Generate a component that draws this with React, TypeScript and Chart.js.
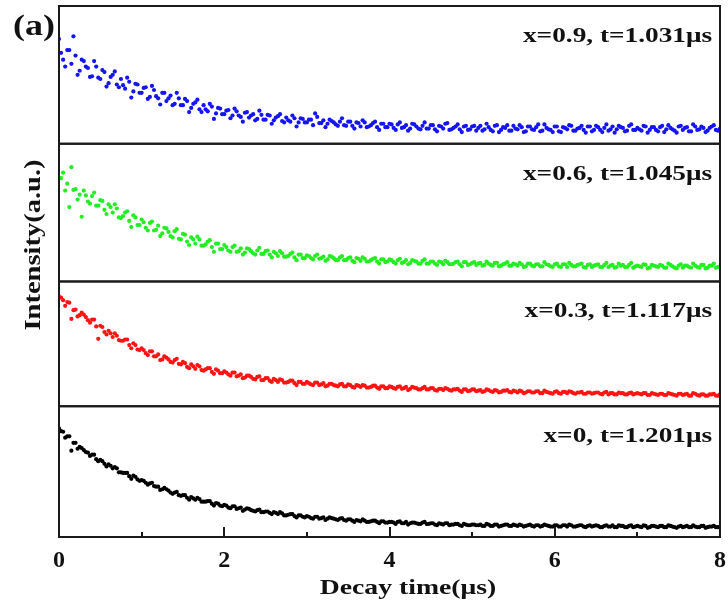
import React, { useEffect, useRef } from 'react';
import { Chart, registerables } from 'chart.js';

Chart.register(...registerables);

// ---- data -------------------------------------------------------------
// Samples are recorded every T_STEP μs; the "_MID" arrays hold the samples
// that fall half a step later (t = 0.025, 0.075, …).
const T_STEP = 0.05;
const X_MIN = 0;
const X_MAX = 8;
const X_TICK_STEP = 2;

const PANEL_LABELS = [
  'x=0.9, t=1.031μs',
  'x=0.6, t=1.045μs',
  'x=0.3, t=1.117μs',
  'x=0, t=1.201μs',
];

// intensity (a.u., each panel normalised 0–100)
const BLUE = [
  76, 61, 68, 58, 64, 53, 60, 55, 49, 56, 47, 52, 44, 50, 43, 47, 40, 45, 38, 43,
  37, 41, 34, 39, 33, 37, 31, 35, 29, 33, 28, 31, 26, 30, 25, 28, 23.5, 27, 22, 25.5,
  21.5, 24.5, 20.5, 23.5, 19.5, 22.5, 19, 21.5, 18, 21, 17.5, 20.5, 17, 20, 16.5, 19, 16, 18.5, 15.5, 18,
  15.5, 17.5, 22, 15, 17, 14.5, 16.5, 14, 16, 13.5, 16, 13, 15.5, 12.5, 15.5, 12.5, 15, 12, 14.5, 12,
  14.5, 11.5, 14, 11.5, 13.5, 11, 14, 11, 13, 11, 13.5, 10.5, 13, 11, 15, 10.5, 12.5, 10.5, 12.5, 10,
  12.5, 9.5, 13, 10.5, 12, 9, 13.5, 10, 11.5, 9.5, 13, 10.5, 12, 9, 12.5, 10, 14, 9.5, 11.5, 10,
  12.5, 9, 12, 10.5, 13, 9.5, 11.5, 10, 12.5, 9, 13, 10, 11.5, 9.5, 12.5, 10.5, 12, 9, 13, 10,
  11.5, 9.5, 12.5, 10, 12, 9, 13, 10.5, 11.5, 9.5, 12.5, 10, 12, 9, 12.5, 10.5, 11.5, 9.5, 12.5, 10,
  11,
];
const BLUE_MID = [
  66, 56, 68, 78, 50, 61, 56, 48.5, 60, 48, 53.5, 41.5, 48.5, 52.5, 41, 42.5, 48, 33.5, 43.5, 37,
  40.5, 32.5, 42, 34.5, 28.5, 37, 33, 28, 37, 28, 32.5, 23, 29, 32, 23, 25, 29, 18, 26, 21.5,
  24, 18.5, 25.5, 20.5, 16, 23, 20.5, 17, 24, 17.5, 21, 14.5, 19, 21.5, 15.5, 17, 20.5, 12.5, 18.5, 15.5,
  17.5, 13.5, 19.5, 15, 12, 17.5, 15.5, 13, 18.5, 13, 16, 11, 15, 17, 12, 13.5, 16, 10, 14.5, 12,
  14, 10, 15.5, 12, 9.5, 14.5, 12.5, 10.5, 15.5, 11, 13.5, 9, 12.5, 14.5, 10, 11.5, 14, 8.5, 13, 10.5,
  13, 11.5, 9.5, 14.5, 10, 13, 8.5, 12, 13.5, 9.5, 11, 13.5, 8.5, 12.5, 10.5, 12, 9, 14, 10.5, 8.5,
  12.5, 8.5, 11.5, 13.5, 9.5, 11, 13, 8, 12.5, 10, 12, 8.5, 14, 10.5, 8, 13, 11.5, 9.5, 14, 10,
  10.5, 13, 8, 12, 10, 12, 8.5, 13.5, 10.5, 8, 13, 11.5, 9, 14, 10, 12.5, 8.5, 11.5, 13.5, 9.5,
];

const GREEN = [
  75, 79, 71, 83, 67, 63, 66, 58, 62, 55, 59, 52, 56, 50, 53, 46, 50, 44, 48, 41,
  45, 39, 42.5, 37, 40.5, 35, 38.5, 33, 36.5, 31, 34.5, 29, 32, 27.5, 30.5, 26, 29, 25, 27.5, 23.5,
  26.5, 22.5, 25, 21.5, 24, 21, 23.5, 20.5, 22.5, 20, 22, 19.5, 21.5, 18.5, 20.5, 18, 20, 17.5, 19.5, 17,
  19, 17, 18.5, 16.5, 18, 16, 18, 15.5, 17.5, 15.5, 17, 15, 17, 15, 16.5, 14.5, 16.5, 14.5, 16, 14,
  16, 14, 15.5, 13.5, 15.5, 13.5, 15, 13, 15, 13, 14.5, 13, 14.5, 12.5, 14, 12.5, 14, 12.5, 14, 12,
  13.5, 12, 13.5, 12, 13, 11.5, 13.5, 11.5, 13, 11.5, 13, 11.5, 12.5, 11, 13, 11, 12.5, 11, 12.5, 11,
  12.5, 11, 12.5, 10.5, 12, 11, 12.5, 10.5, 12, 10.5, 12, 10.5, 12, 10.5, 12, 10.5, 11.5, 10.5, 12, 10,
  11.5, 10.5, 12, 10, 11.5, 10.5, 11.5, 10, 12, 10, 11.5, 10, 11.5, 10, 11.5, 10, 12, 10, 11.5, 10,
  11,
];
const GREEN_MID = [
  75, 66, 54, 66.5, 59.5, 47, 62.5, 56.5, 64.5, 55, 58.5, 49, 54, 56, 46.5, 47.5, 51, 39.5, 46.5, 41,
  43, 37, 43.5, 37.5, 33, 39, 36, 32, 38, 30.5, 34, 26.5, 30.5, 32.5, 26, 27, 30, 21.5, 27.5, 23.5,
  25, 21.5, 26, 22, 19.5, 24, 22, 19.5, 24.5, 20, 22.5, 17.5, 20.5, 22, 18, 18.5, 21, 15.5, 19.5, 17,
  18.5, 16, 19.5, 17, 15, 18.5, 17, 15.5, 18.5, 15.5, 17.5, 14, 16.5, 17.5, 14.5, 15.5, 17, 13, 16, 14.5,
  15.5, 13, 16.5, 14, 12.5, 15.5, 14.5, 13, 16, 13, 14.5, 12, 14, 15, 12.5, 13, 14.5, 11, 14, 12.5,
  14, 13, 11.5, 14.5, 12, 13.5, 11, 12.5, 14, 11.5, 12.5, 13.5, 10.5, 13, 11.5, 12.5, 11, 14, 12, 10.5,
  13, 10.5, 12.5, 13.5, 11, 12, 13, 10, 12.5, 11.5, 12.5, 10.5, 13.5, 11.5, 10, 13, 12, 10.5, 13.5, 11,
  11, 12.5, 9.5, 12, 11, 12, 10, 13, 11, 9.5, 12.5, 11.5, 10.5, 13, 10.5, 12, 9.5, 11.5, 13, 10.5,
];

const RED = [
  88, 85, 83.5, 70, 77.5, 73, 73.5, 69, 69.5, 64, 64.5, 59.5, 60.5, 55.5, 56.5, 52.5, 53.5, 49, 50.5, 45.5,
  46.5, 42.5, 44, 40, 41.5, 37.5, 39, 35.5, 37, 34, 35.5, 31.5, 33.5, 30, 32, 28.5, 30.5, 27.5, 29.5, 26.5,
  28, 25.5, 27, 24, 25.5, 23, 24.5, 22, 23.5, 21, 22.5, 20.5, 22, 19.5, 21, 19, 20.5, 18.5, 19.5, 18,
  19.5, 17.5, 19, 17, 18.5, 16.5, 18, 16.5, 17.5, 16, 17.5, 15.5, 17, 15.5, 16.5, 15, 16.5, 15, 16, 14.5,
  16, 14.5, 15.5, 14, 15.5, 14, 15, 13.5, 14.5, 13.5, 14.5, 13, 14, 13, 14, 12.5, 13.5, 12.5, 13.5, 12,
  13.5, 12, 13, 12, 13, 11.5, 12.5, 11.5, 12.5, 11.5, 12.5, 11, 12, 11, 12, 11, 12, 10.5, 11.5, 10.5,
  11.5, 10.5, 11.5, 10.5, 11.5, 10, 11, 10, 11, 10, 11, 10, 11, 9.5, 10.5, 9.5, 10.5, 9.5, 10.5, 9.5,
  10.5, 9.5, 10.5, 9, 10, 9, 10, 9, 10, 9, 10, 9, 10, 8.5, 10, 8.5, 9.5, 8.5, 9.5, 8.5,
  9.5,
];
const RED_MID = [
  87, 80.5, 83, 77, 72, 75, 71.5, 67, 69.5, 54, 63.5, 57.5, 58.5, 58.5, 53, 52.5, 53.5, 46.5, 49, 45,
  45, 41, 44, 40, 37, 40, 37.5, 35, 38, 33.5, 34.5, 30.5, 32, 33, 29, 29.5, 30.5, 26, 28.5, 26.5,
  27, 24.5, 27, 24.5, 22.5, 24.5, 23.5, 21.5, 24, 21, 22.5, 19.5, 21, 21.5, 19, 19.5, 20.5, 17, 19.5, 18,
  18.5, 17, 19, 17.5, 16, 18, 17, 16, 18, 16, 17, 15, 16.5, 17, 15, 15.5, 16.5, 14, 16, 14.5,
  15.5, 14, 16, 14.5, 13, 15.5, 14.5, 13.5, 15.5, 13.5, 14.5, 12.5, 14, 14.5, 13, 13.5, 14, 11.5, 13.5, 12.5,
  13.5, 12.5, 11.5, 13.5, 12, 13, 11, 12.5, 13, 11, 12, 12.5, 10.5, 12, 11, 12, 10.5, 12.5, 11, 10,
  12, 10, 11.5, 12, 10.5, 11, 11.5, 10, 11, 10.5, 11, 9.5, 11.5, 10.5, 9.5, 11, 10.5, 9.5, 11, 10,
  10, 10.5, 9, 10.5, 9.5, 10, 9, 10.5, 9.5, 8.5, 10, 9.5, 8.5, 10.5, 9, 9.5, 8.5, 9.5, 10, 8.5,
];

const BLACK = [
  83, 80.5, 77, 66, 72, 69, 66.5, 64.5, 63, 59.5, 59, 56, 55.5, 52.5, 52.5, 49.5, 49, 46.5, 47, 44,
  43.5, 41.5, 41, 39, 38.5, 36.5, 36.5, 34, 34, 32, 32, 30, 30.5, 28.5, 29, 27, 27.5, 25.5, 26, 24,
  24.5, 22.5, 23.5, 21.5, 22.5, 21, 21.5, 20, 20.5, 19, 19.5, 18.5, 19, 17.5, 18, 16.5, 17.5, 16, 16.5, 15.5,
  16, 14.5, 15.5, 14, 15, 14, 14.5, 13.5, 14, 13, 13.5, 12.5, 13, 12, 12.5, 11.5, 12.5, 11.5, 12, 11,
  11.5, 11, 11.5, 10.5, 11.5, 10.5, 11, 10, 11, 10, 10.5, 9.5, 10.5, 9.5, 10.5, 9.5, 10, 9, 10, 9,
  9.5, 9, 9.5, 8.5, 9.5, 8.5, 9.5, 8.5, 9.5, 8.5, 9.5, 8.5, 9, 8.5, 9.5, 8, 9, 8.5, 9, 8,
  9, 8, 9, 8, 9, 8, 9, 8, 8.5, 8, 9, 7.5, 8.5, 8, 9, 7.5, 8.5, 7.5, 8.5, 7.5,
  8.5, 7.5, 8.5, 7.5, 8.5, 7.5, 8.5, 7.5, 8.5, 7.5, 8, 7.5, 8.5, 7.5, 8, 7.5, 8.5, 7.5, 8, 7.5,
  8,
];
const BLACK_MID = [
  81, 76, 77, 72, 67.5, 68, 65, 62, 63, 58, 58, 54, 54.5, 53.5, 49.5, 49, 49, 44.5, 46, 43,
  43, 40, 41.5, 38.5, 36, 37.5, 35.5, 33, 34.5, 31.5, 32, 28.5, 29.5, 30, 27, 27, 27.5, 24, 25.5, 23.5,
  24, 22, 23.5, 22, 20, 22, 20.5, 19.5, 21, 19, 19.5, 17.5, 18.5, 19, 16.5, 17, 17.5, 15, 16.5, 15,
  15.5, 14, 15.5, 14.5, 13, 15, 14, 13, 14.5, 12.5, 13.5, 11.5, 12.5, 13.5, 11.5, 12, 12.5, 10.5, 12, 11,
  11.5, 10, 12, 10.5, 9.5, 11, 10.5, 10, 11.5, 10, 10.5, 9, 10, 10.5, 9, 9.5, 10, 8.5, 9.5, 9,
  9.5, 9, 8.5, 10, 8.5, 9.5, 8, 9, 9.5, 8.5, 9, 9.5, 8, 9, 8.5, 9, 8, 9.5, 8.5, 8,
  9, 8, 9, 9.5, 8, 8.5, 9, 7.5, 9, 8.5, 8.5, 7.5, 9, 8, 7.5, 9, 8.5, 7.5, 9, 8,
  8, 9, 7, 8.5, 8, 8.5, 7.5, 9, 8, 7, 8.5, 8, 7.5, 9, 7.5, 8.5, 7, 8, 8.5, 7.5,
];

// ---- styling / layout -------------------------------------------------
const SERIES = [BLUE, GREEN, RED, BLACK];
const SERIES_MID = [BLUE_MID, GREEN_MID, RED_MID, BLACK_MID];
const COLORS = ['#1414f5', '#22ee22', '#ff1414', '#000000'];
const PANEL_IDS = ['p0', 'p1', 'p2', 'p3'];
const PANEL_WEIGHTS = [138, 138, 125, 131];
const FONT = '"Liberation Serif", "Times New Roman", serif';

function stretchedText(ctx: any, text: string, x: number, y: number, sx: number, align: string) {
  ctx.save();
  ctx.translate(x, y);
  ctx.scale(sx, 1);
  ctx.textAlign = align;
  ctx.fillText(text, 0, 0);
  ctx.restore();
}

const decorPlugin = {
  id: 'decor',
  afterDatasetsDraw(chart: any) {
    const { ctx, chartArea, scales } = chart;
    const left = chartArea.left;
    const right = chartArea.right;
    ctx.save();
    // panel frames
    ctx.strokeStyle = '#1a1a1a';
    ctx.lineWidth = 2;
    PANEL_IDS.forEach((id) => {
      const s = scales[id];
      ctx.strokeRect(left, s.top, right - left, s.bottom - s.top);
    });
    // inward x ticks on the bottom panel
    const xs = scales.x;
    const bottom = scales.p3.bottom;
    for (let v = X_MIN; v <= X_MAX; v += 1) {
      const px = Math.round(xs.getPixelForValue(v));
      const len = v % X_TICK_STEP === 0 ? 10 : 5;
      ctx.beginPath();
      ctx.moveTo(px, bottom);
      ctx.lineTo(px, bottom - len);
      ctx.stroke();
    }
    ctx.fillStyle = '#111';
    ctx.textBaseline = 'alphabetic';
    // panel labels
    ctx.font = `bold 22px ${FONT}`;
    PANEL_IDS.forEach((id, i) => {
      stretchedText(ctx, PANEL_LABELS[i], right - 8, scales[id].top + 36, 1.24, 'right');
    });
    // (a)
    ctx.font = `bold 30px ${FONT}`;
    stretchedText(ctx, '(a)', 13, 35, 1.2, 'left');
    // x title
    ctx.font = `bold 22px ${FONT}`;
    stretchedText(ctx, 'Decay time(μs)', 408, 594, 1.26, 'center');
    // y title
    ctx.font = `bold 23px ${FONT}`;
    ctx.save();
    ctx.translate(34, 245);
    ctx.rotate(-Math.PI / 2);
    ctx.textBaseline = 'middle';
    stretchedText(ctx, 'Intensity(a.u.)', 0, 0, 1.24, 'center');
    ctx.restore();
    ctx.restore();
  },
};

export default function App() {
  const ref = useRef<HTMLCanvasElement | null>(null);

  useEffect(() => {
    const canvas = ref.current;
    if (!canvas) return;

    const yScales: any = {};
    // defined bottom-to-top so that the last one is stacked on top
    [3, 2, 1, 0].forEach((i) => {
      yScales[PANEL_IDS[i]] = {
        type: 'linear',
        position: 'left',
        stack: 'panels',
        stackWeight: PANEL_WEIGHTS[i],
        min: 0,
        max: 100,
        display: false,
      };
    });

    const pointStyle = (i: number) => ({
      yAxisID: PANEL_IDS[i],
      backgroundColor: COLORS[i],
      borderColor: COLORS[i],
      pointRadius: 2.1,
      pointBorderWidth: 0,
      pointHoverRadius: 0,
    });

    const datasets: any[] = [];
    SERIES.forEach((vals, i) => {
      datasets.push({
        label: PANEL_LABELS[i],
        data: vals.map((v, j) => ({ x: j * T_STEP, y: v })),
        ...pointStyle(i),
      });
      datasets.push({
        label: PANEL_LABELS[i] + ' (mid)',
        data: SERIES_MID[i].map((v, j) => ({ x: (j + 0.5) * T_STEP, y: v })),
        ...pointStyle(i),
      });
    });

    const chart = new Chart(canvas, {
      type: 'scatter',
      data: { datasets },
      options: {
        animation: false,
        responsive: false,
        events: [],
        layout: { padding: { left: 59, right: 8, top: 6, bottom: 0 } },
        plugins: {
          legend: { display: false },
          tooltip: { enabled: false },
          title: { display: false },
        },
        scales: {
          x: {
            type: 'linear',
            position: 'bottom',
            min: X_MIN,
            max: X_MAX,
            grid: { display: false, drawTicks: false },
            border: { display: false },
            ticks: {
              stepSize: X_TICK_STEP,
              color: '#111',
              padding: 9,
              maxRotation: 0,
              font: { family: FONT, weight: 'bold', size: 24 },
            },
            afterFit: (s: any) => {
              s.height = 73;
              s.paddingLeft = 0;
              s.paddingRight = 0;
            },
          },
          ...yScales,
        },
      } as any,
      plugins: [decorPlugin],
    });

    return () => chart.destroy();
  }, []);

  return (
    <div
      style={{
        position: 'fixed',
        left: 0,
        top: 0,
        width: 728,
        height: 610,
        background: '#fff',
      }}
    >
      <canvas ref={ref} width={728} height={610} style={{ display: 'block' }} />
    </div>
  );
}
